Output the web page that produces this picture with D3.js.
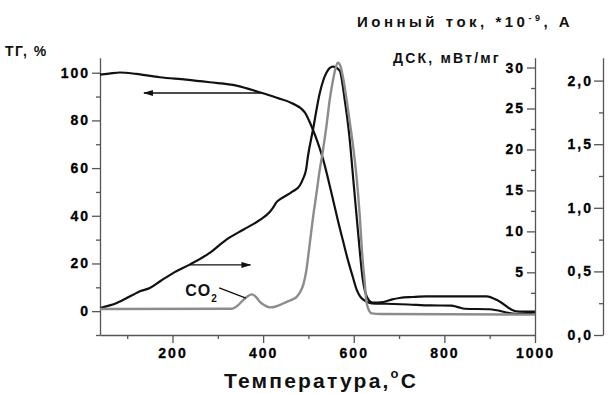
<!DOCTYPE html>
<html>
<head>
<meta charset="utf-8">
<script src="https://cdn.jsdelivr.net/npm/d3@7"></script>
<style>
  body { margin: 0; background: #fff; }
  svg { display: block; }
  text { font-family: 'Liberation Sans', Arial, sans-serif; font-weight: bold; fill: #111; }
  .axis path, .axis line { stroke: #555; stroke-width: 1.3; }
  .axis text { font-size: 14px; letter-spacing: 2px; font-family: 'Liberation Sans', Arial, sans-serif; font-weight: bold; fill: #000; stroke: #000; stroke-width: 0.3px; }
</style>
</head>
<body>
<svg width="608" height="394"></svg>
<script>
// TG, % (left axis)
const tgData = [
  [40, 99.2], [60, 99.6], [84, 100.1], [120, 99.5], [172, 98.1], [230, 97.1], [282, 96.0],
  [341, 94.6], [392, 91.8], [430, 89.5], [465, 87.1], [492, 83.4], [509, 76.5], [520, 71],
  [531, 64.6], [553, 47.8], [565, 38], [576, 29.7], [587, 21.5], [598, 14.3], [607, 8.7],
  [614, 6.2], [621, 4.8], [630, 3.8], [640, 3.3], [672, 3.1], [720, 2.8], [768, 2.4],
  [815, 2.35], [830, 1.7], [845, 1.0], [900, 0.8], [958, -1.1], [1000, -0.5]
]

// DSC, mW/mg (inner right axis)
const dscData = [
  [40, 0.65], [77, 1.26], [113, 2.27], [128, 2.68], [150, 3.09], [175, 4.0], [202, 4.93],
  [238, 5.94], [282, 7.37], [319, 9.0], [356, 10.2], [393, 11.4], [415, 12.4], [422, 12.9],
  [430, 13.6], [437, 13.9], [466, 14.9], [481, 15.6], [488, 16.4], [495, 17.6], [499, 19.2],
  [510, 22.4], [525, 26.9], [540, 29.4], [554, 30.1], [569, 29.6], [580, 26.1], [590, 21.8],
  [600, 15.7], [610, 9.6], [620, 4.1], [630, 1.9], [642, 1.3], [665, 1.38], [685, 1.7],
  [701, 1.87], [730, 1.99], [760, 2.07], [893, 2.07], [920, 1.5], [958, 0.25], [1000, 0.2]
]

// ion current CO2, *10^-9 A (outer right axis)
const ionData = [
  [40, 0.204], [330, 0.206], [345, 0.235], [356, 0.275], [366, 0.305], [375, 0.319],
  [384, 0.30], [393, 0.261], [405, 0.23], [415, 0.217], [426, 0.222], [440, 0.24],
  [452, 0.261], [465, 0.28], [474, 0.30], [482, 0.34], [489, 0.40], [495, 0.50], [503, 0.72],
  [510, 0.92], [518, 1.12], [525, 1.30], [532, 1.45], [540, 1.65], [547, 1.85], [553, 1.98],
  [558, 2.07], [565, 2.14], [570, 2.12], [576, 2.03], [583, 1.88], [591, 1.68], [598, 1.5],
  [606, 1.25], [613, 0.95], [619, 0.62], [624, 0.42], [628, 0.26], [634, 0.19], [640, 0.17],
  [660, 0.165], [1000, 0.16]
]

const xTicks = [200, 400, 600, 800, 1000]
const xMinor = [100, 300, 500, 700, 900]
const tgTicks = [0, 20, 40, 60, 80, 100]
const tgMinor = [-10, 10, 30, 50, 70, 90]
const dscTicks = [5, 10, 15, 20, 25, 30]
const dscMinor = [2.5, 7.5, 12.5, 17.5, 22.5, 27.5]
const ionTicks = [0, 0.5, 1, 1.5, 2]
const ionMinor = [0.25, 0.75, 1.25, 1.75]

// arrows: [fromT, toT, value]
const tgArrow = [400, 137, 91.5]
const dscArrow = [239, 372, 5.9]

const svg = d3.select('svg')

const x = d3.scaleLinear().domain([40, 1000]).range([100, 535])
const yTG = d3.scaleLinear().domain([-10, 106.3]).range([335, 57.7])
const yDSC = d3.scaleLinear().domain([-2.65, 31.2]).range([335, 57.7])
const yIon = d3.scaleLinear().domain([0, 2.18]).range([335, 57.7])

const comma = d => d3.format('.1f')(d).replace('.', ',')

// axes
function addAxis (axis, minor, tr) {
  const g = svg.append('g').attr('class', 'axis').attr('transform', tr)
  g.call(axis)
  g.append('g').call(minor).call(s => s.select('.domain').remove()).selectAll('text').remove()
  return g
}

addAxis(d3.axisBottom(x).tickValues(xTicks).tickSize(8).tickPadding(5).tickFormat(d3.format('d')).tickSizeOuter(0),
  d3.axisBottom(x).tickValues(xMinor).tickSize(4).tickFormat(''), 'translate(0,335)')

addAxis(d3.axisLeft(yTG).tickValues(tgTicks).tickSize(8).tickPadding(2).tickSizeOuter(0),
  d3.axisLeft(yTG).tickValues(tgMinor).tickSize(4).tickFormat(''), 'translate(100,0)')

addAxis(d3.axisLeft(yDSC).tickValues(dscTicks).tickSize(8).tickPadding(2).tickSizeOuter(0),
  d3.axisLeft(yDSC).tickValues(dscMinor).tickSize(4).tickFormat(''), 'translate(535,0)')

addAxis(d3.axisLeft(yIon).tickValues(ionTicks).tickSize(9).tickPadding(1).tickFormat(comma).tickSizeOuter(0),
  d3.axisLeft(yIon).tickValues(ionMinor).tickSize(4).tickFormat(''), 'translate(603,0)')

// curves
const line = (y) => d3.line().x(d => x(d[0])).y(d => y(d[1])).curve(d3.curveMonotoneX)

svg.append('path').datum(tgData)
  .attr('d', line(yTG)).attr('fill', 'none').attr('stroke', '#111').attr('stroke-width', 2.2)

svg.append('path').datum(dscData)
  .attr('d', line(yDSC)).attr('fill', 'none').attr('stroke', '#111').attr('stroke-width', 2.2)

svg.append('path').datum(ionData)
  .attr('d', line(yIon)).attr('fill', 'none').attr('stroke', '#8c8c8c').attr('stroke-width', 2.4)

// arrows
svg.append('defs').append('marker')
  .attr('id', 'head').attr('viewBox', '0 0 10 6').attr('refX', 9).attr('refY', 3)
  .attr('markerWidth', 10).attr('markerHeight', 6).attr('markerUnits', 'userSpaceOnUse')
  .attr('orient', 'auto')
  .append('path').attr('d', 'M0,0L10,3L0,6Z').attr('fill', '#111')

svg.append('line')
  .attr('x1', x(tgArrow[0])).attr('x2', x(tgArrow[1]))
  .attr('y1', yTG(tgArrow[2])).attr('y2', yTG(tgArrow[2]))
  .attr('stroke', '#111').attr('stroke-width', 1.3).attr('marker-end', 'url(#head)')

svg.append('line')
  .attr('x1', x(dscArrow[0])).attr('x2', x(dscArrow[1]))
  .attr('y1', yDSC(dscArrow[2])).attr('y2', yDSC(dscArrow[2]))
  .attr('stroke', '#111').attr('stroke-width', 1.3).attr('marker-end', 'url(#head)')

// CO2 label with leader
svg.append('line')
  .attr('x1', x(303)).attr('y1', yIon(0.37))
  .attr('x2', x(362)).attr('y2', yIon(0.29))
  .attr('stroke', '#111').attr('stroke-width', 1.3)

const co2 = svg.append('text')
  .attr('x', x(228)).attr('y', yIon(0.307))
  .attr('font-size', 16).attr('letter-spacing', 1)
co2.append('tspan').text('CO')
co2.append('tspan').attr('font-size', 10).attr('dy', 6).text('2')

// axis titles
svg.append('text').attr('x', 5).attr('y', 56)
  .attr('font-size', 14).attr('letter-spacing', 1.5).text('ТГ, %')

svg.append('text').attr('x', 393).attr('y', 63)
  .attr('font-size', 14).attr('letter-spacing', 2.2).text('ДСК, мВт/мг')

const ion = svg.append('text').attr('x', 357).attr('y', 27)
  .attr('font-size', 15).attr('letter-spacing', 3.5)
ion.append('tspan').text('Ионный ток, *10')
ion.append('tspan').attr('font-size', 9).attr('dy', -6).text('-9')
ion.append('tspan').attr('dy', 6).text(', А')

const xl = svg.append('text').attr('x', 224).attr('y', 388)
  .attr('font-size', 21).attr('letter-spacing', 2.2)
xl.append('tspan').text('Температура,')
xl.append('tspan').attr('font-size', 13).attr('dy', -10).text('o')
xl.append('tspan').attr('dy', 10).text('C')
</script>
</body>
</html>
